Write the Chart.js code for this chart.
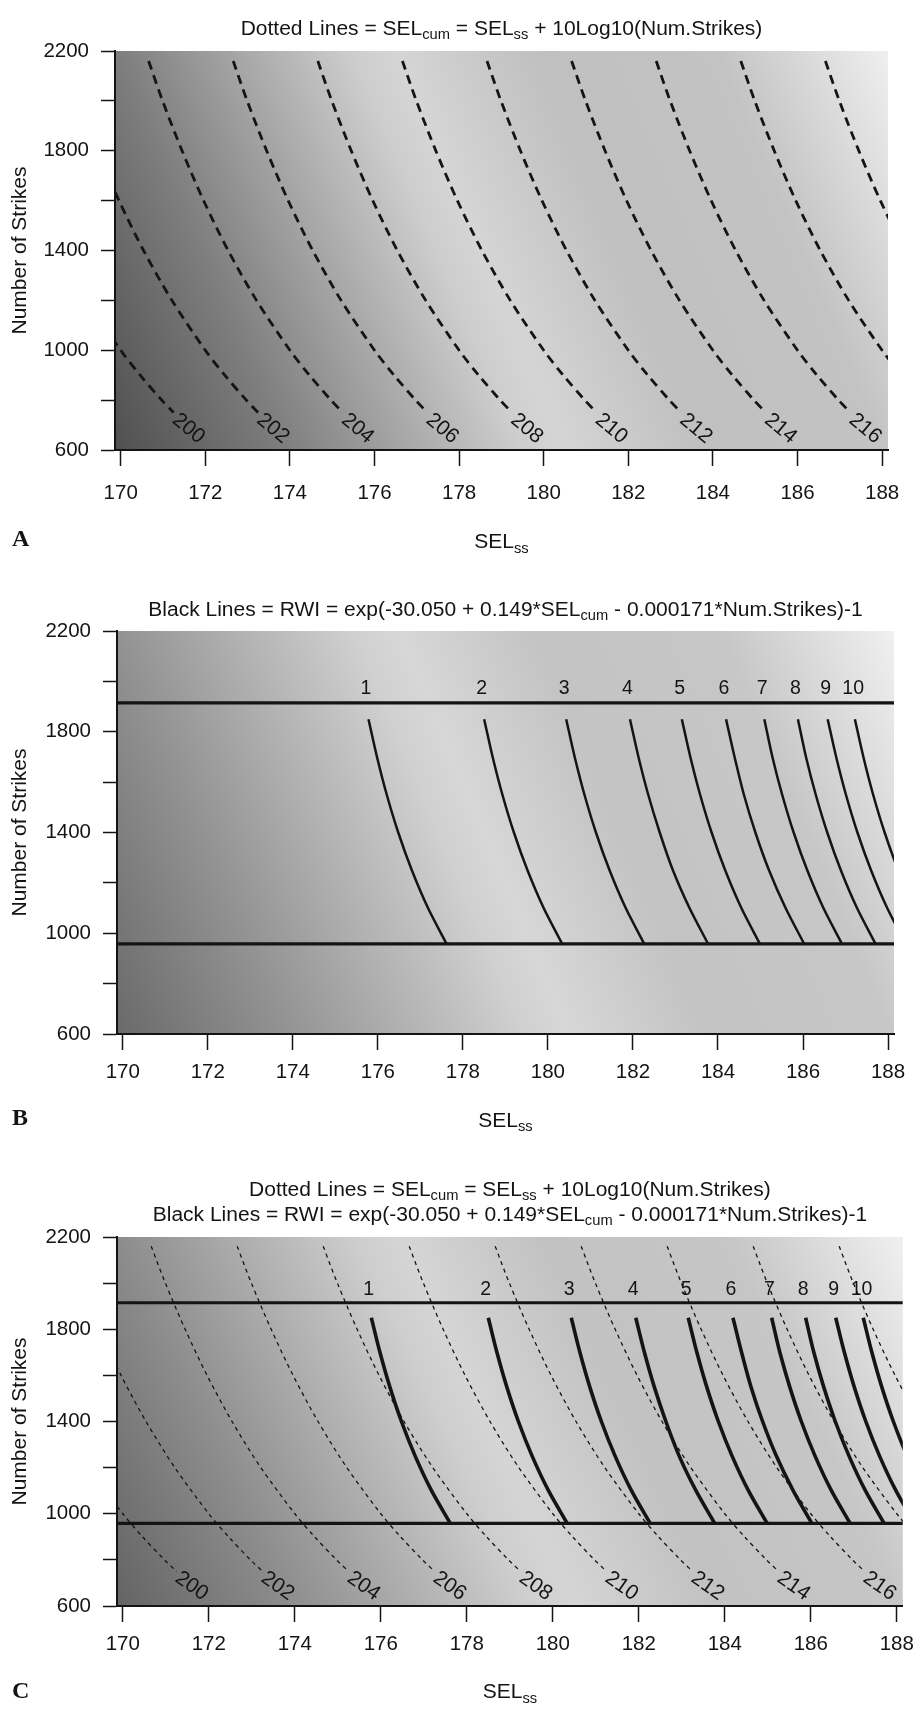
<!DOCTYPE html>
<html>
<head>
<meta charset="utf-8">
<script src="https://cdn.jsdelivr.net/npm/chart.js@4.4.1/dist/chart.umd.min.js"></script>
<style>
  body { margin: 0; background: #fff; }
  #page { position: relative; width: 924px; height: 1712px; overflow: hidden; background: #fff; }
  canvas { position: absolute; left: 0; }
</style>
</head>
<body>
<div id="page">
  <canvas id="chartA" width="924" height="570" style="top:0px"></canvas>
  <canvas id="chartB" width="924" height="570" style="top:570px"></canvas>
  <canvas id="chartC" width="924" height="572" style="top:1140px"></canvas>
</div>
<script>
// ---- axis values ----
const xMin = 169.865, xMax = 188.14;
const xTicks = [170, 172, 174, 176, 178, 180, 182, 184, 186, 188];
const yTicks = [600, 800, 1000, 1200, 1400, 1600, 1800, 2000, 2200];
const yTickLabels = [600, 1000, 1400, 1800, 2200];

// ---- dotted lines: SELcum contours, SELss read at each strike level ----
const contourLevels = ['200', '202', '204', '206', '208', '210', '212', '214', '216', '218', '220'];
const contourStrikes = [2160, 2000, 1800, 1600, 1400, 1200, 1000, 900, 800, 750];
const contourX = [
  [166.66, 166.99, 167.45, 167.96, 168.54, 169.21, 170.00, 170.46, 170.97, 171.25],
  [168.66, 168.99, 169.45, 169.96, 170.54, 171.21, 172.00, 172.46, 172.97, 173.25],
  [170.66, 170.99, 171.45, 171.96, 172.54, 173.21, 174.00, 174.46, 174.97, 175.25],
  [172.66, 172.99, 173.45, 173.96, 174.54, 175.21, 176.00, 176.46, 176.97, 177.25],
  [174.66, 174.99, 175.45, 175.96, 176.54, 177.21, 178.00, 178.46, 178.97, 179.25],
  [176.66, 176.99, 177.45, 177.96, 178.54, 179.21, 180.00, 180.46, 180.97, 181.25],
  [178.66, 178.99, 179.45, 179.96, 180.54, 181.21, 182.00, 182.46, 182.97, 183.25],
  [180.66, 180.99, 181.45, 181.96, 182.54, 183.21, 184.00, 184.46, 184.97, 185.25],
  [182.66, 182.99, 183.45, 183.96, 184.54, 185.21, 186.00, 186.46, 186.97, 187.25],
  [184.66, 184.99, 185.45, 185.96, 186.54, 187.21, 188.00, 188.46, 188.97, 189.25],
  [186.66, 186.99, 187.45, 187.96, 188.54, 189.21, 190.00, 190.46, 190.97, 191.25]
];
// labels sit on the curve just below where each dotted line stops
const contourLabels = ['200', '202', '204', '206', '208', '210', '212', '214', '216'];
const contourLabelX = [171.60, 173.60, 175.60, 177.60, 179.60, 181.60, 183.60, 185.60, 187.60];
const contourLabelStrikes = 686;

// ---- black lines: RWI = 1..10 ----
const rwiLevels = ['1', '2', '3', '4', '5', '6', '7', '8', '9', '10'];
const rwiStrikes = [960, 1100, 1250, 1400, 1550, 1700, 1850];
const rwiX = [
  [177.61, 177.18, 176.80, 176.48, 176.21, 175.98, 175.78],
  [180.33, 179.90, 179.52, 179.20, 178.93, 178.70, 178.50],
  [182.26, 181.83, 181.45, 181.13, 180.86, 180.63, 180.43],
  [183.76, 183.33, 182.94, 182.63, 182.36, 182.13, 181.93],
  [184.98, 184.55, 184.17, 183.85, 183.58, 183.35, 183.15],
  [186.02, 185.59, 185.20, 184.88, 184.61, 184.39, 184.19],
  [186.91, 186.48, 186.10, 185.78, 185.51, 185.28, 185.09],
  [187.70, 187.27, 186.89, 186.57, 186.30, 186.07, 185.88],
  [188.41, 187.98, 187.60, 187.28, 187.01, 186.78, 186.58],
  [189.05, 188.62, 188.24, 187.92, 187.65, 187.42, 187.22]
];
const rwiLabelX = [175.72, 178.44, 180.38, 181.87, 183.10, 184.14, 185.04, 185.82, 186.53, 187.18];
const rwiLabelStrikes = 1970;
const strikeBounds = [958, 1915];

// lightest streak of the shaded background, from top to bottom (SELss, strikes)
const bandLine = [[176.5, 2200], [180.5, 600]];

const FONT = '"Liberation Sans", Arial, Helvetica, sans-serif';
const SERIF = '"Liberation Serif", "Times New Roman", serif';
const INK = '#141414';

Chart.defaults.font.family = FONT;
Chart.defaults.color = INK;

const TITLE_A = 'Dotted Lines = SEL_{cum} = SEL_{ss} + 10Log10(Num.Strikes)';
const TITLE_B = 'Black Lines = RWI = exp(-30.050 + 0.149*SEL_{cum} - 0.000171*Num.Strikes)-1';

// shade stops: position 0 = lower-left corner, 1 = light streak, 2 = upper-right corner
const panels = [
  {
    id: 'chartA', height: 570, area: { left: 115, top: 51, right: 888, bottom: 450 },
    titles: [TITLE_A], titleBase: [34.6], xTitleBase: 548.3, letter: 'A', letterBase: 546,
    xTickPad: 15, contours: { width: 2.8, dash: [9, 6], angle: 40 }, rwi: null,
    stops: [[0, '#505050'], [0.38, '#7e7e7e'], [0.9, '#cdcdcd'], [1, '#d5d5d5'], [1.28, '#c0c0c0'], [1.65, '#c3c3c3'], [2, '#efefef']]
  },
  {
    id: 'chartB', height: 570, area: { left: 117, top: 61, right: 894, bottom: 464 },
    titles: [TITLE_B], titleBase: [45.7], xTitleBase: 556.7, letter: 'B', letterBase: 555,
    xTickPad: 10, contours: null, rwi: { width: 2.5 },
    stops: [[0, '#6a6a6a'], [0.38, '#939393'], [0.9, '#d0d0d0'], [1, '#d7d7d7'], [1.28, '#c3c3c3'], [1.65, '#c7c7c7'], [2, '#f0f0f0']]
  },
  {
    id: 'chartC', height: 572, area: { left: 117, top: 97, right: 910, bottom: 466 },
    titles: [TITLE_A, TITLE_B], titleBase: [55.7, 81], xTitleBase: 558, letter: 'C', letterBase: 558,
    xTickPad: 10, contours: { width: 1.3, dash: [4, 4], angle: 35 }, rwi: { width: 3.6 },
    stops: [[0, '#646464'], [0.38, '#8d8d8d'], [0.9, '#cecece'], [1, '#d5d5d5'], [1.28, '#c2c2c2'], [1.65, '#c6c6c6'], [2, '#f0f0f0']]
  }
];

// split "SEL_{cum}" style strings into normal / subscript runs
function parseRich(str) {
  return str.split(/_\{([^}]*)\}/).map((t, i) => ({ text: t, sub: i % 2 === 1 })).filter(p => p.text);
}

function drawRich(ctx, str, cx, base, size, stretch) {
  const parts = parseRich(str);
  const subSize = size * 0.7;
  ctx.save();
  ctx.fillStyle = INK;
  ctx.textAlign = 'left';
  ctx.textBaseline = 'alphabetic';
  let w = 0;
  parts.forEach(p => {
    ctx.font = `${p.sub ? subSize : size}px ${FONT}`;
    w += ctx.measureText(p.text).width;
  });
  ctx.translate(cx, base);
  ctx.scale(stretch, 1);
  let x = -w / 2;
  parts.forEach(p => {
    ctx.font = `${p.sub ? subSize : size}px ${FONT}`;
    ctx.fillText(p.text, x, p.sub ? size * 0.22 : 0);
    x += ctx.measureText(p.text).width;
  });
  ctx.restore();
}

// shaded backdrop: linear ramp running across the light streak
const shadePlugin = {
  id: 'shade',
  beforeDraw(chart, args, opts) {
    const { ctx, chartArea: a, scales: { x, y } } = chart;
    const x0 = x.getPixelForValue(bandLine[0][0]), y0 = y.getPixelForValue(bandLine[0][1]);
    const x1 = x.getPixelForValue(bandLine[1][0]), y1 = y.getPixelForValue(bandLine[1][1]);
    let nx = y1 - y0, ny = -(x1 - x0);
    const len = Math.hypot(nx, ny);
    nx /= len; ny /= len;
    const pStart = a.left * nx + a.bottom * ny;
    const pEnd = a.right * nx + a.top * ny;
    const pBand = x0 * nx + y0 * ny;
    const span = pEnd - pStart;
    const tBand = (pBand - pStart) / span;
    const g = ctx.createLinearGradient(a.left, a.bottom, a.left + nx * span, a.bottom + ny * span);
    opts.stops.forEach(([u, c]) => {
      const t = u <= 1 ? u * tBand : tBand + (u - 1) * (1 - tBand);
      g.addColorStop(Math.min(1, Math.max(0, t)), c);
    });
    ctx.save();
    ctx.fillStyle = g;
    ctx.fillRect(a.left, a.top, a.right - a.left, a.bottom - a.top);
    ctx.restore();
  }
};

// titles, axis caption, panel letter and curve labels
const textPlugin = {
  id: 'texts',
  afterDraw(chart, args, opts) {
    const { ctx, chartArea: a, scales: { x, y } } = chart;
    const cx = (a.left + a.right) / 2;
    opts.titles.forEach((t, i) => drawRich(ctx, t, cx, opts.titleBase[i], 20, 1.05));
    drawRich(ctx, 'SEL_{ss}', cx, opts.xTitleBase, 21, 1);

    ctx.save();
    ctx.fillStyle = INK;
    ctx.font = `bold 24px ${SERIF}`;
    ctx.textAlign = 'left';
    ctx.textBaseline = 'alphabetic';
    ctx.fillText(opts.letter, 12, opts.letterBase);

    if (opts.contours) {
      ctx.font = `21px ${FONT}`;
      ctx.textAlign = 'center';
      ctx.textBaseline = 'middle';
      contourLabels.forEach((t, i) => {
        ctx.save();
        ctx.translate(x.getPixelForValue(contourLabelX[i]), y.getPixelForValue(contourLabelStrikes));
        ctx.rotate(opts.contours.angle * Math.PI / 180);
        ctx.fillText(t, 0, 0);
        ctx.restore();
      });
    }
    if (opts.rwi) {
      ctx.font = `19.5px ${FONT}`;
      ctx.textAlign = 'center';
      ctx.textBaseline = 'middle';
      rwiLevels.forEach((t, i) => {
        ctx.fillText(t, x.getPixelForValue(rwiLabelX[i]), y.getPixelForValue(rwiLabelStrikes));
      });
    }
    ctx.restore();
  }
};

function buildDatasets(p) {
  const sets = [];
  if (p.rwi) {
    strikeBounds.forEach(n => sets.push({
      data: [{ x: xMin, y: n }, { x: xMax, y: n }],
      showLine: true, borderColor: INK, borderWidth: 3.2, pointRadius: 0, clip: 0, order: 0
    }));
    rwiX.forEach(row => sets.push({
      data: row.map((v, j) => ({ x: v, y: rwiStrikes[j] })),
      showLine: true, borderColor: INK, borderWidth: p.rwi.width, pointRadius: 0,
      tension: 0.3, clip: 0, order: 1
    }));
  }
  if (p.contours) {
    contourX.forEach(row => sets.push({
      data: row.map((v, j) => ({ x: v, y: contourStrikes[j] })),
      showLine: true, borderColor: INK, borderWidth: p.contours.width, borderDash: p.contours.dash,
      pointRadius: 0, tension: 0.3, clip: 0, order: 2
    }));
  }
  return sets;
}

panels.forEach(p => {
  const ctx = document.getElementById(p.id).getContext('2d');
  new Chart(ctx, {
    type: 'scatter',
    data: { datasets: buildDatasets(p) },
    options: {
      responsive: false,
      animation: false,
      events: [],
      layout: { padding: { top: p.area.top, right: 924 - p.area.right, left: 0, bottom: 0 } },
      plugins: {
        legend: { display: false },
        tooltip: { enabled: false },
        title: { display: false },
        shade: { stops: p.stops },
        texts: {
          titles: p.titles, titleBase: p.titleBase, xTitleBase: p.xTitleBase,
          letter: p.letter, letterBase: p.letterBase, contours: p.contours, rwi: p.rwi
        }
      },
      scales: {
        x: {
          type: 'linear', position: 'bottom', min: xMin, max: xMax,
          afterBuildTicks: s => { s.ticks = xTicks.map(v => ({ value: v })); },
          afterFit: s => { s.height = p.height - p.area.bottom; },
          border: { display: true, color: INK, width: 2 },
          grid: { drawOnChartArea: false, drawTicks: true, tickLength: 16, tickWidth: 1.5, tickColor: INK },
          ticks: { autoSkip: false, maxRotation: 0, padding: p.xTickPad, color: INK,
                   font: { size: 20.5 }, callback: v => String(v) }
        },
        y: {
          type: 'linear', position: 'left', min: 600, max: 2200,
          afterBuildTicks: s => { s.ticks = yTicks.map(v => ({ value: v })); },
          afterFit: s => { s.width = p.area.left; },
          border: { display: true, color: INK, width: 2 },
          grid: { drawOnChartArea: false, drawTicks: true, tickLength: 14, tickWidth: 1.5, tickColor: INK },
          ticks: { autoSkip: false, padding: 12, color: INK, font: { size: 20.5 },
                   callback: v => (yTickLabels.includes(v) ? String(v) : '') },
          title: { display: true, text: 'Number of Strikes', color: INK,
                   font: { size: 21 }, padding: { top: 8, bottom: 0 } }
        }
      }
    },
    plugins: [shadePlugin, textPlugin]
  });
});
</script>
</body>
</html>
